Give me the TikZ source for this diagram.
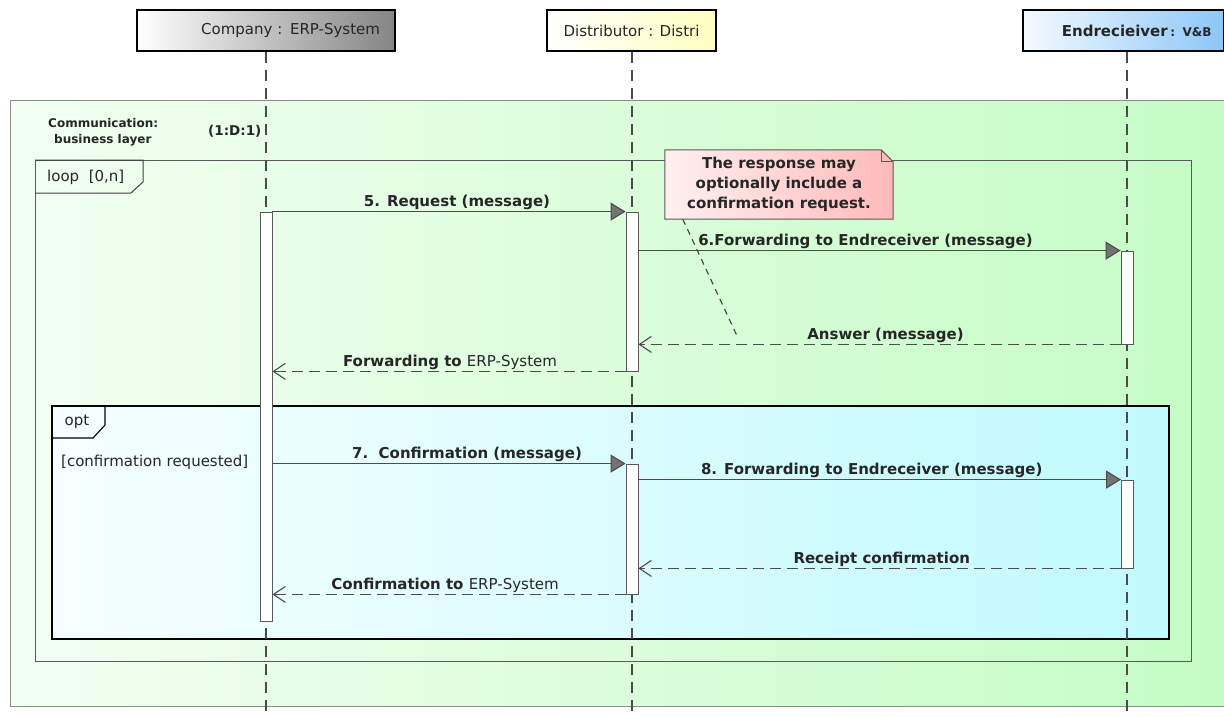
\documentclass[tikz,border=0pt]{standalone}
\usepackage{fontspec}
\setmainfont{DejaVu Sans}
\usetikzlibrary{arrows.meta,calc}
\pgfdeclarelayer{bg}
\pgfsetlayers{bg,main}

\definecolor{lifegray}{HTML}{4A4A4A}
\definecolor{outerL}{HTML}{F2FFF2}
\definecolor{outerR}{HTML}{C4FCC4}
\definecolor{optL}{HTML}{F6FFFF}
\definecolor{optR}{HTML}{C0FAFE}
\definecolor{noteL}{HTML}{FFF0F0}
\definecolor{noteR}{HTML}{FFBABA}
\definecolor{distR}{HTML}{FFFFC0}
\definecolor{endrL}{HTML}{F4FAFF}
\definecolor{endrR}{HTML}{8CC6F8}

\begin{document}
\begin{tikzpicture}[x=1pt,y=-1pt,
  lifeline/.style={draw=lifegray, line width=1.3pt, dash pattern=on 11pt off 7pt},
  headbox/.style={draw=black, line width=1.8pt, minimum height=41pt, inner sep=0pt,
    text=black!85, font=\fontsize{15}{18}\selectfont},
  act/.style={draw=black!65, fill=white, line width=0.8pt, minimum width=12pt, inner sep=0pt},
  syncmsg/.style={draw=black!70, line width=1.1pt,
    -{Triangle[length=15pt,width=18pt,fill=black!55]}},
  retmsg/.style={draw=black!70, line width=1.1pt, dash pattern=on 11pt off 6pt,
    -{Straight Barb[length=12pt,width=16pt]}},
  msglabel/.style={font=\bfseries\fontsize{15}{18}\selectfont, text=black!85, inner sep=1.5pt},
  framelabel/.style={font=\fontsize{15}{18}\selectfont, text=black!85, inner sep=0pt},
  smallbold/.style={font=\bfseries\fontsize{12}{14}\selectfont, text=black!85, inner sep=0pt},
  notelink/.style={draw=black!75, line width=1.1pt, dash pattern=on 6pt off 5pt}
]
\useasboundingbox (0,0) rectangle (1224,716);
\clip (0,0) rectangle (1224,716);

% ---- combined fragments (background layer) ----
\begin{pgfonlayer}{bg}
  \shade[left color=outerL, right color=outerR, draw=black!45, line width=1pt]
    (10,100) rectangle (1240,706);
  \draw[draw=black!65, line width=1pt] (35,160) rectangle (1191,661);
  \draw[draw=black!75, line width=1pt] (35,160) -- (143,160) -- (143,182) -- (131,193) -- (35,193);
  \shade[left color=optL, right color=optR, draw=black, line width=1.2pt]
    (52,406) rectangle (1169,639);
  \draw[draw=black, line width=1.1pt] (52,406) -- (105,406) -- (105,425) -- (93,438) -- (52,438);
\end{pgfonlayer}

\node[smallbold, anchor=west] (commA) at (48,123) {Communication:};
\node[smallbold, anchor=west] (commB) at (54,140) {business layer};
\node[smallbold, anchor=west, font=\bfseries\fontsize{13.5}{16}\selectfont] (commC) at (208,131) {(1:D:1)};
\node[framelabel, anchor=west] (loopLbl) at (47,177) {loop\ \ [0,n]};
\node[framelabel] (optLbl) at (77,422) {opt};
\node[framelabel, anchor=west] (guard) at (61,462) {[confirmation requested]};

% ---- lifeline heads ----
\node[headbox, minimum width=258pt, left color=white, right color=black!48,
      text width=228pt, align=right] (hC) at (266,30.5) {Company : ERP-System};
\node[headbox, minimum width=169pt, left color=white, right color=distR] (hD) at (631.5,30.5)
  {Distributor : Distri};
\node[headbox, minimum width=201pt, left color=endrL, right color=endrR,
      text width=176pt, align=right] (hE) at (1123.5,30.5)
  {\bfseries Endrecieiver\,{\fontsize{12}{14}\selectfont : V\&B}};

% ---- lifelines ----
\coordinate (endC) at (266,720);
\coordinate (endD) at (632,720);
\coordinate (endE) at (1127,720);
\draw[lifeline] (hC.south -| endC) -- (endC);
\draw[lifeline] (hD.south -| endD) -- (endD);
\draw[lifeline] (hE.south -| endE) -- (endE);

% ---- activations ----
\node[act, minimum height=409pt] (aC)  at (266,416.5) {};
\node[act, minimum height=159pt] (aD1) at (632,291.5) {};
\node[act, minimum height=93pt]  (aE1) at (1127,297.5) {};
\node[act, minimum height=130pt] (aD2) at (632,529) {};
\node[act, minimum height=88pt]  (aE2) at (1127.5,524) {};

% ---- messages ----
\draw[syncmsg] (aC.north east) -- node[msglabel, above, xshift=8pt] {5. Request (message)} (aD1.north west);
\draw[syncmsg] (aD1.east |- aE1.north) -- node[msglabel, above, xshift=-14pt] {6.Forwarding to Endreceiver (message)} (aE1.north west);
\draw[retmsg] (aE1.south west) -- node[msglabel, above, xshift=6pt] {Answer (message)} (aD1.east |- aE1.south);
\draw[retmsg] (aD1.south west) -- node[msglabel, above, xshift=1pt] {Forwarding to {\mdseries ERP-System}} (aC.east |- aD1.south);
\draw[syncmsg] (aC.east |- aD2.north) -- node[msglabel, above, xshift=18pt] {7.\ \ Confirmation (message)} (aD2.north west);
\draw[syncmsg] (aD2.east |- aE2.north) -- node[msglabel, above, xshift=-8pt] {8. Forwarding to Endreceiver (message)} (aE2.north west);
\draw[retmsg] (aE2.south west) -- node[msglabel, above, xshift=2pt] {Receipt confirmation} (aD2.east |- aE2.south);
\draw[retmsg] (aD2.south west) -- node[msglabel, above, xshift=-4pt] {Confirmation to {\mdseries ERP-System}} (aC.east |- aD2.south);

% ---- note ----
\node[minimum width=228pt, minimum height=69pt, inner sep=0pt, align=center,
      font=\bfseries\fontsize{15}{20}\selectfont, text=black!85] (note) at (779,184.5)
  {The response may\\optionally include a\\confirmation request.};
\begin{pgfonlayer}{bg}
  \shade[left color=noteL, right color=noteR, draw=black!65, line width=1pt]
    (note.north west) -- ($(note.north east)+(-12,0)$) -- ($(note.north east)+(0,12)$)
    -- (note.south east) -- (note.south west) -- cycle;
\end{pgfonlayer}
\draw[draw=black!65, line width=1pt] ($(note.north east)+(-12,0)$) -- ($(note.north east)+(-12,12)$) -- ($(note.north east)+(0,12)$);
\coordinate (ansPt) at (738,338);
\draw[notelink] ($(note.south west)+(18,0)$) -- (ansPt);
\end{tikzpicture}
\end{document}
